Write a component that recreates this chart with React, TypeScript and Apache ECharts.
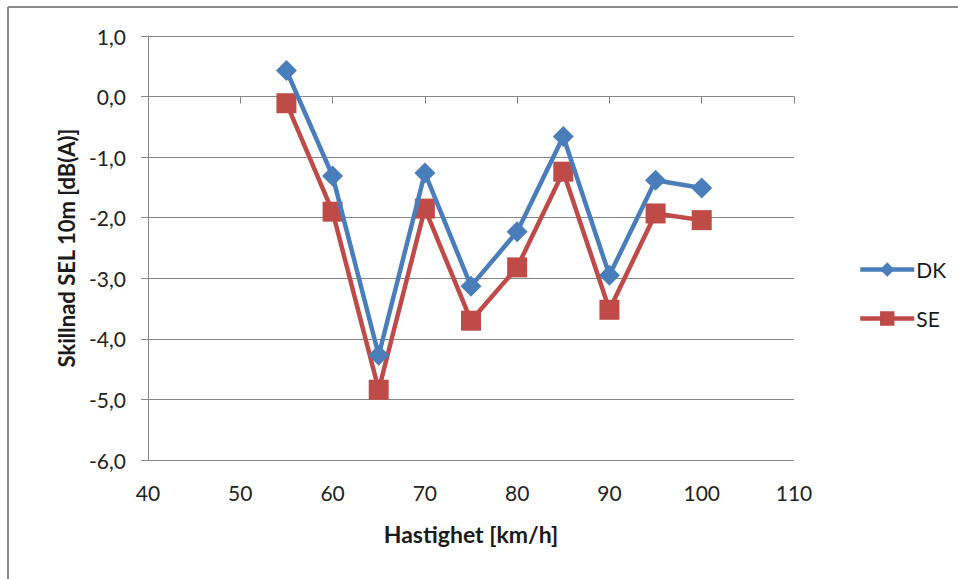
import React, { useEffect, useRef } from "react";
import * as echarts from "echarts";

const speeds = [55, 60, 65, 70, 75, 80, 85, 90, 95, 100];
const dkValues = [0.43, -1.31, -4.27, -1.26, -3.13, -2.23, -0.66, -2.95, -1.38, -1.51];
const seValues = [-0.11, -1.9, -4.84, -1.85, -3.7, -2.82, -1.24, -3.52, -1.93, -2.04];
const seriesNames = ["DK", "SE"];
const xTitle = "Hastighet [km/h]";
const yTitle = "Skillnad SEL 10m [dB(A)]";

const FONT = "Lato, 'Open Sans', sans-serif";
const AXIS_COLOR = "#868686";

export default function App() {
  const ref = useRef<HTMLDivElement>(null);
  useEffect(() => {
    if (!ref.current) return;
    const chart = echarts.init(ref.current, undefined, { renderer: "svg" });
    chart.setOption({
      animation: false,
      backgroundColor: "#ffffff",
      textStyle: { fontFamily: FONT },
      grid: { left: 148, right: 164, top: 36, bottom: 119, containLabel: false },
      legend: {
        orient: "vertical",
        left: 853,
        top: 254,
        itemGap: 28,
        itemWidth: 54,
        itemHeight: 18,
        lineStyle: { width: 4.5 },
        textStyle: { fontFamily: FONT, fontSize: 21, lineHeight: 18, color: "#1a1a1a", padding: [0, 0, 0, -3] },
        data: seriesNames,
      },
      xAxis: {
        type: "value",
        min: 40,
        max: 110,
        interval: 10,
        name: xTitle,
        nameLocation: "middle",
        nameGap: 62,
        nameTextStyle: { fontFamily: FONT, fontSize: 23, fontWeight: "bold", color: "#1a1a1a" },
        axisLine: { show: true, lineStyle: { color: AXIS_COLOR, width: 1 } },
        axisTick: { show: true, length: 7, lineStyle: { color: AXIS_COLOR } },
        axisLabel: { fontFamily: FONT, fontSize: 21, color: "#222", margin: 22 },
        splitLine: { show: false },
      },
      yAxis: {
        type: "value",
        min: -6,
        max: 1,
        interval: 1,
        name: yTitle,
        nameLocation: "middle",
        nameGap: 71,
        nameRotate: 90,
        nameTextStyle: { fontFamily: FONT, fontSize: 22, fontWeight: "bold", color: "#1a1a1a" },
        axisLine: { show: true, lineStyle: { color: AXIS_COLOR, width: 1 } },
        axisTick: { show: true, length: 7, lineStyle: { color: AXIS_COLOR } },
        axisLabel: {
          fontFamily: FONT,
          fontSize: 21,
          color: "#222",
          margin: 22,
          formatter: (v: number) => v.toFixed(1).replace(".", ","),
        },
        splitLine: { show: true, lineStyle: { color: AXIS_COLOR, width: 1 } },
      },
      series: [
        {
          name: seriesNames[0],
          type: "line",
          data: speeds.map((s, i) => [s, dkValues[i]]),
          symbol: "diamond",
          symbolSize: 21,
          lineStyle: { color: "#4A7EBB", width: 4.5 },
          itemStyle: { color: "#4A7EBB" },
          z: 3,
        },
        {
          name: seriesNames[1],
          type: "line",
          data: speeds.map((s, i) => [s, seValues[i]]),
          symbol: "rect",
          symbolSize: 20,
          lineStyle: { color: "#BE4B48", width: 4.5 },
          itemStyle: { color: "#BE4B48" },
          z: 2,
        },
      ],
      graphic: [
        { type: "line", shape: { x1: 8, y1: 7, x2: 958, y2: 7 }, style: { stroke: "#8a8a8a", lineWidth: 2 } },
        { type: "line", shape: { x1: 8, y1: 7, x2: 8, y2: 579 }, style: { stroke: "#8a8a8a", lineWidth: 2 } },
      ],
    });
    return () => chart.dispose();
  }, []);
  return (
    <div
      ref={ref}
      style={{ position: "absolute", left: 0, top: 0, width: 958, height: 579 }}
    />
  );
}
